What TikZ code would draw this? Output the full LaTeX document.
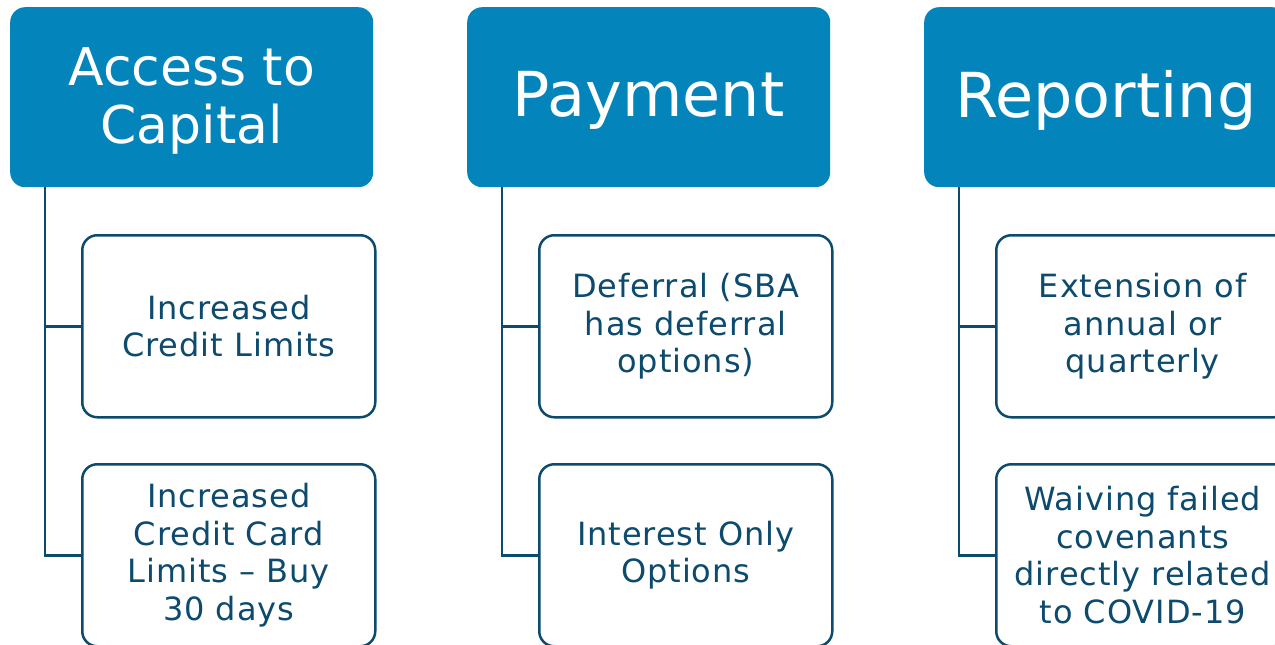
\documentclass[tikz,border=0pt]{standalone}
\usepackage{fontspec}
\newfontfamily\headfont{DejaVu Sans}
\newfontfamily\leaffont{DejaVu Sans}[LetterSpace=3]
\definecolor{headblue}{RGB}{3,133,188}
\definecolor{inkblue}{RGB}{12,74,110}
\tikzset{
  head/.style={rectangle, rounded corners=15pt, fill=headblue, draw=none,
    text=white, align=center, inner sep=0pt, anchor=north west,
    minimum width=363pt, minimum height=180pt, font=\headfont},
  leaf/.style={rectangle, rounded corners=15pt, fill=white, draw=inkblue,
    line width=2.5pt, text=inkblue, align=center, inner sep=0pt, anchor=north west,
    minimum width=293pt, minimum height=182pt,
    font=\leaffont\fontsize{32}{37.5}\selectfont},
  link/.style={draw=inkblue, line width=2.5pt},
  bigtitle/.style={font=\headfont\fontsize{62}{70}\selectfont, text depth=7pt},
  twoline/.style={font=\headfont\fontsize{52}{58}\selectfont, text depth=4pt}
}
\begin{document}
\begin{tikzpicture}[x=1pt,y=-1pt]
  \clip (0,0) rectangle (1275,645);
  \fill[white] (0,0) rectangle (1275,645);

  % column headers
  \node[head, twoline] (h1) at (10,7) {Access to\\Capital};
  \node[head, bigtitle] (h2) at (467,7) {Payment};
  \node[head, bigtitle] (h3) at (924,7) {Reporting};

  % column items
  \node[leaf] (a1) at (81,234) {Increased\\Credit Limits};
  \node[leaf] (a2) at (81,463) {Increased\\Credit Card\\Limits – Buy\\30 days};
  \node[leaf] (b1) at (538,234) {Deferral (SBA\\has deferral\\options)};
  \node[leaf] (b2) at (538,463) {Interest Only\\Options};
  \node[leaf] (c1) at (995,234) {Extension of\\annual or\\quarterly};
  \node[leaf] (c2) at (995,463) {Waiving failed\\covenants\\directly related\\to COVID-19};

  % tree connectors
  \foreach \h/\p/\q in {h1/a1/a2, h2/b1/b2, h3/c1/c2}{
    \draw[link] ([xshift=35pt]\h.south west) |- (\p.west);
    \draw[link] ([xshift=35pt]\h.south west) |- (\q.west);
  }
\end{tikzpicture}
\end{document}
